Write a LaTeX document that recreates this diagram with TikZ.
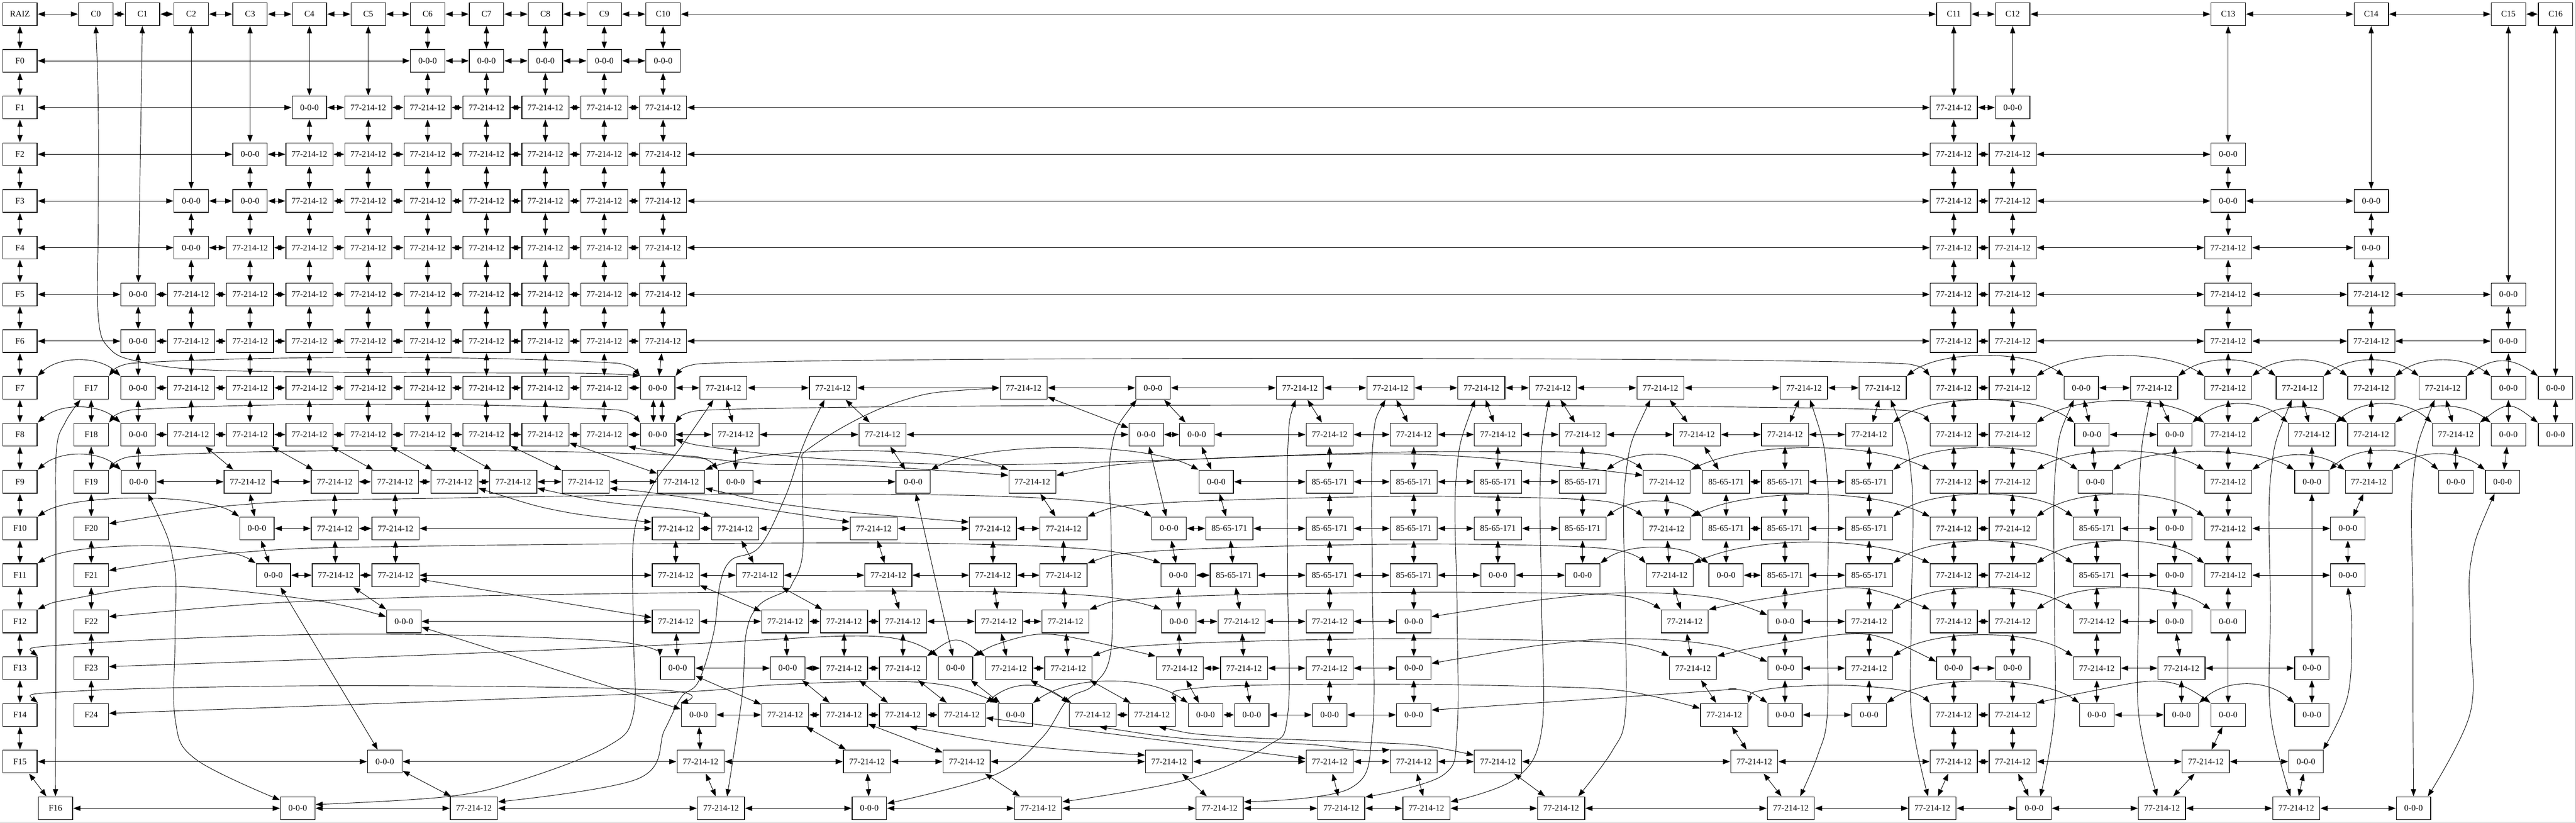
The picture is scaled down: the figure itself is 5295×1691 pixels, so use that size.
\documentclass[tikz,border=0pt]{standalone}
\usepackage{fontspec}
\setmainfont{Liberation Serif}
\usetikzlibrary{arrows.meta,calc}
\tikzset{
 cell/.style={draw,line width=1pt,inner sep=0pt,outer sep=1pt,minimum height=35pt,font=\fontsize{13.2}{15}\selectfont},
 conn/.style={line width=.75pt,{Triangle[length=11pt,width=8pt]}-{Triangle[length=11pt,width=8pt]}}
}
\def\wdz{53pt}\def\wda{72.5pt}\def\wdb{72.5pt}
\def\labz{0-0-0}\def\laba{77-214-12}\def\labb{85-65-171}
\newcommand\cellrow[3]{\foreach \x/\t in {#3}{\node[cell,minimum width=\csname wd\t\endcsname] (n#1x\x) at (\x,#2) {\csname lab\t\endcsname};}}
\newcommand\hchain[2]{\foreach \x [count=\i, remember=\x as \p] in {#2}{\ifnum\i>1 \draw[conn] (n#1\p) -- (n#1\x);\fi}}
\newcommand\vlinks[3]{\foreach \a/\b in {#3}{\draw[conn] (n#1\a) -- (n#2\b);}}
\newcommand\arcS[4][55]{\draw[conn] (n#2.north east) .. controls +(#1,-1.333*#4) and +(-#1,-1.333*#4) .. (n#3.north west);}
\newcommand\arcL[3]{\draw[conn] (n#1.north east) .. controls +(12,-16) and +(-20,3) .. ($(n#1.north east)+(45,-0.68*#3)$) .. controls +(250,-0.42*#3) and +(-250,-0.42*#3) .. ($(n#2.north west)+(-45,-0.68*#3)$) .. controls +(20,3) and +(-12,-16) .. (n#2.north west);}
\newcommand\crv[1]{\draw[conn] plot[smooth,tension=.6] coordinates {#1};}
\begin{document}
\begin{tikzpicture}[x=0.75pt,y=-0.75pt]
\useasboundingbox (0,0) rectangle (5295,1691);
\draw[gray!60,line width=.75pt] (5294,0) -- (5294,1690) -- (0,1690);
% headers
\node[cell,minimum width=53pt] (nRAIZ) at (41,29) {RAIZ};
\foreach \n/\x in {0/197,1/293,2/393,3/514,4/636,5/757,6/879,7/1000,8/1121,9/1242,10/1363,11/4016,12/4137,13/4580,14/4874,15/5156,16/5253}
  {\node[cell,minimum width=53pt] (nC\n) at (\x,29) {C\n};}
\foreach \n/\y in {0/125,1/221,2/317,3/413,4/509,5/605,6/701,7/797,8/893,9/990,10/1086,11/1182,12/1277,13/1373,14/1469,15/1565}
  {\node[cell,minimum width=53pt] (nF\n) at (41,\y) {F\n};}
\node[cell,minimum width=53pt] (nF16) at (114,1661) {F16};
\foreach \n/\y in {17/797,18/893,19/990,20/1086,21/1182,22/1277,23/1373,24/1469}
  {\node[cell,minimum width=53pt] (nF\n) at (187.5,\y) {F\n};}
% cells
\cellrow{1}{125}{879/z,1000/z,1121/z,1242/z,1363/z}
\cellrow{2}{221}{636/z,757/a,879/a,1000/a,1121/a,1242/a,1363/a,4016/a,4137/z}
\cellrow{3}{317}{514/z,636/a,757/a,879/a,1000/a,1121/a,1242/a,1363/a,4016/a,4137/a,4580/z}
\cellrow{4}{413}{393/z,514/z,636/a,757/a,879/a,1000/a,1121/a,1242/a,1363/a,4016/a,4137/a,4580/z,4874/z}
\cellrow{5}{509}{393/z,514/a,636/a,757/a,879/a,1000/a,1121/a,1242/a,1363/a,4016/a,4137/a,4580/a,4874/z}
\cellrow{6}{605}{284/z,393/a,514/a,636/a,757/a,879/a,1000/a,1121/a,1242/a,1363/a,4016/a,4137/a,4580/a,4874/a,5156/z}
\cellrow{7}{701}{284/z,393/a,514/a,636/a,757/a,879/a,1000/a,1121/a,1242/a,1363/a,4016/a,4137/a,4580/a,4874/a,5156/z}
\cellrow{8}{797}{284/z,393/a,514/a,636/a,757/a,879/a,1000/a,1121/a,1242/a,1352/z,1487/a,1712/a,2104/a,2370/z,2672/a,2858/a,3045/a,3192/a,3413/a,3708/a,3870/a,4016/a,4137/a,4278/z,4428/a,4580/a,4727/a,4874/a,5021/a,5156/z,5253/z}
\cellrow{9}{893}{284/z,393/a,514/a,636/a,757/a,879/a,1000/a,1121/a,1242/a,1352/z,1512/a,1814/a,2356/z,2460/z,2733/a,2906/a,3079/a,3253/a,3488/a,3669/a,3842/a,4016/a,4137/a,4300/z,4470/z,4580/a,4752/a,4874/a,5048/a,5156/z,5253/z}
\cellrow{10}{990}{285/z,509/a,688/a,812/a,934/a,1055/a,1204/a,1400/a,1512/z,1877/z,2122/a,2500/z,2733/b,2906/b,3079/b,3253/b,3426/a,3548/b,3669/b,3842/b,4016/a,4137/a,4307/z,4580/a,4752/z,4869/a,5048/z,5144/z}
\cellrow{11}{1086}{528/z,688/a,813/a,1389/a,1511/a,1796/a,2041/a,2186/a,2403/z,2527/b,2733/b,2906/b,3079/b,3253/b,3426/a,3548/b,3669/b,3842/b,4016/a,4137/a,4310/b,4470/z,4580/a,4826/z}
\cellrow{12}{1182}{562/z,690/a,813/a,1389/a,1562/a,1826/a,2041/a,2186/a,2422/z,2536/b,2733/b,2906/b,3079/z,3253/z,3432/a,3548/z,3669/b,3842/b,4016/a,4137/a,4310/b,4470/z,4580/a,4826/z}
\cellrow{13}{1277}{830/z,1389/a,1614/a,1735/a,1856/a,2053/a,2190/a,2423/z,2552/a,2733/a,2906/z,3463/a,3669/z,3842/a,4016/a,4137/a,4310/a,4470/z,4580/z}
\cellrow{14}{1373}{1393/z,1619/z,1735/a,1856/a,1964/z,2074/a,2196/a,2425/a,2557/a,2733/a,2906/z,3480/a,3669/z,3842/a,4016/z,4137/z,4310/a,4484/a,4752/z}
\cellrow{15}{1469}{1436/z,1614/a,1735/a,1856/a,1977/a,2087/z,2246/a,2368/a,2478/z,2573/z,2733/z,2906/z,3544/a,3669/z,3842/z,4016/a,4137/a,4310/z,4484/z,4580/z,4752/z}
\cellrow{16}{1565}{791/z,1440/a,1782/a,1987/a,2403/a,2733/a,2906/a,3079/a,3606/a,4016/a,4137/a,4534/a,4740/z}
\cellrow{17}{1661}{612/z,974/a,1482/a,1787/z,2134/a,2507/a,2757/a,2932/a,3209/a,3681/a,3972/a,4181/z,4444/a,4720/a,4961/z}
% horizontal links
\draw[conn] (nRAIZ) -- (nC0);
\hchain{C}{0,1,2,3,4,5,6,7,8,9,10,11,12,13,14,15,16}
\foreach \a/\b in {F0/1x879,F1/2x636,F2/3x514,F3/4x393,F4/5x393,F5/6x284,F6/7x284,F15/16x791,F16/17x612}{\draw[conn] (n\a) -- (n\b);}
\hchain{1x}{879,1000,1121,1242,1363}
\hchain{2x}{636,757,879,1000,1121,1242,1363,4016,4137}
\hchain{3x}{514,636,757,879,1000,1121,1242,1363,4016,4137,4580}
\hchain{4x}{393,514,636,757,879,1000,1121,1242,1363,4016,4137,4580,4874}
\hchain{5x}{393,514,636,757,879,1000,1121,1242,1363,4016,4137,4580,4874}
\hchain{6x}{284,393,514,636,757,879,1000,1121,1242,1363,4016,4137,4580,4874,5156}
\hchain{7x}{284,393,514,636,757,879,1000,1121,1242,1363,4016,4137,4580,4874,5156}
\hchain{8x}{284,393,514,636,757,879,1000,1121,1242,1352,1487,1712,2104,2370,2672,2858,3045,3192,3413,3708,3870}
\hchain{8x}{4016,4137}\hchain{8x}{4278,4428}
\hchain{9x}{284,393,514,636,757,879,1000,1121,1242,1352,1512,1814,2356,2460,2733,2906,3079,3253,3488,3669,3842}
\hchain{9x}{4016,4137}\hchain{9x}{4300,4470}
\hchain{10x}{285,509,688,812,934,1055,1204,1400}\hchain{10x}{1512,1877}\hchain{10x}{2500,2733,2906,3079,3253}\hchain{10x}{3548,3669,3842}\hchain{10x}{4016,4137}
\hchain{11x}{528,688,813,1389,1511,1796,2041,2186}\hchain{11x}{2403,2527,2733,2906,3079,3253}\hchain{11x}{3548,3669,3842}\hchain{11x}{4016,4137}\hchain{11x}{4310,4470}\hchain{11x}{4580,4826}
\hchain{12x}{562,690,813,1389,1562,1826,2041,2186}\hchain{12x}{2422,2536,2733,2906,3079,3253}\hchain{12x}{3548,3669,3842}\hchain{12x}{4016,4137}\hchain{12x}{4310,4470}\hchain{12x}{4580,4826}
\hchain{13x}{830,1389,1614,1735,1856,2053,2190}\hchain{13x}{2423,2552,2733,2906}\hchain{13x}{3669,3842}\hchain{13x}{4016,4137}\hchain{13x}{4310,4470}
\hchain{14x}{1393,1619,1735,1856}\hchain{14x}{2074,2196}\hchain{14x}{2425,2557,2733,2906}\hchain{14x}{3669,3842}\hchain{14x}{4016,4137}\hchain{14x}{4310,4484,4752}
\hchain{15x}{1436,1614,1735,1856,1977}\hchain{15x}{2246,2368}\hchain{15x}{2478,2573,2733,2906}\hchain{15x}{3669,3842}\hchain{15x}{4016,4137}\hchain{15x}{4310,4484}
\hchain{16x}{791,1440,1782,1987,2403,2733,2906,3079,3606,4016,4137,4534,4740}
\hchain{17x}{612,974,1482,1787,2134,2507,2757,2932,3209,3681,3972,4181,4444,4720,4961}
% header verticals
\draw[conn] (nRAIZ) -- (nF0);
\hchain{F}{0,1,2,3,4,5,6,7,8,9,10,11,12,13,14,15,16}
\hchain{F}{17,18,19,20,21,22,23,24}
\foreach \a/\b in {C1/6x284,C2/4x393,C3/3x514,C4/2x636,C5/2x757,C6/1x879,C7/1x1000,C8/1x1121,C9/1x1242,C10/1x1363,C11/2x4016,C12/2x4137,C13/3x4580,C14/4x4874,C15/6x5156,C16/8x5253}{\draw[conn] (n\a) -- (n\b);}
% verticals
\vlinks{1x}{2x}{879,1000,1121,1242,1363}
\vlinks{2x}{3x}{636,757,879,1000,1121,1242,1363,4016,4137}
\vlinks{3x}{4x}{514,636,757,879,1000,1121,1242,1363,4016,4137,4580}
\vlinks{4x}{5x}{393,514,636,757,879,1000,1121,1242,1363,4016,4137,4580,4874}
\vlinks{5x}{6x}{393,514,636,757,879,1000,1121,1242,1363,4016,4137,4580,4874}
\vlinks{6x}{7x}{284,393,514,636,757,879,1000,1121,1242,1363,4016,4137,4580,4874,5156}
\vlinks{7x}{8x}{284,393,514,636,757,879,1000,1121,1242,1363/1352,4016,4137,4580,4874,5156}
\vlinks{8x}{9x}{284,393,514,636,757,879,1000,1121,1242,1487/1512,1712/1814,2104/2356,2370/2460,2672/2733,2858/2906,3045/3079,3192/3253,3413/3488,3708/3669,3870/3842,4016,4137,4278/4300,4428/4470,4580,4727/4752,4874,5021/5048,5156,5253}
\draw[conn] (n8x1352.250) -- (n9x1352.110);
\draw[conn] (n8x1352.290) -- (n9x1352.70);
\vlinks{9x}{10x}{284/285,393/509,514/688,636/812,757/934,879/1055,1000/1204,1121/1400,1512,1814/1877,2460/2500,2733,2906,3079,3253,3488/3548,3669,3842,4016,4137,4300/4307,4580,4752,4874/4869,5048,5156/5144}
\vlinks{10x}{11x}{509/528,688,812/813,2122/2186,2500/2527,2733,2906,3079,3253,3426,3548,3669,3842,4016,4137,4307/4310,4580,4869/4826}
\vlinks{11x}{12x}{528/562,688/690,813,1389,1511/1562,1796/1826,2041,2186,2403/2422,2527/2536,2733,2906,3079,3253,3426/3432,3548,3669,3842,4016,4137,4310,4470,4580,4826}
\vlinks{12x}{13x}{690/830,813/1389,1389/1614,1562/1735,1826/1856,2041/2053,2186/2190,2422/2423,2536/2552,2733,2906,3432/3463,3669,3842,4016,4137,4310,4470,4580}
\vlinks{13x}{14x}{1389/1393,1614/1619,1735,1856,2053/2074,2190/2196,2423/2425,2552/2557,2733,2906,3463/3480,3669,3842,4016,4137,4310,4470/4484}
\vlinks{14x}{15x}{1393/1614,1619/1735,1735/1856,1856/1977,1964/2087,2074/2246,2196/2368,2425/2478,2557/2573,2733,2906,3480/3544,3669,3842,4016,4137,4310,4484,4752}
\vlinks{15x}{16x}{1436/1440,1614/1782,1735/1987,1977/2733,3544/3606,4016,4137,4580/4534}
\vlinks{16x}{17x}{791/974,1440/1482,1782/1787,1987/2134,2403/2507,2733/2757,2906/2932,3079/3209,3606/3681,4016/3972,4137/4181,4534/4444,4740/4720}
\foreach \a/\b in {10x1877/14x1964,12x562/16x791,13x830/15x1436,9x2356/11x2403,9x4470/11x4470,10x4752/14x4752,13x4580/15x4580}{\draw[conn] (n\a) -- (n\b);}
% same-rank arcs
\arcS[45]{F7}{8x284}{31}\arcL{F17}{8x1352}{38}\arcL{8x1352}{8x4016}{36}
\arcS[70]{8x3870}{8x4278}{40}\arcS[80]{8x4137}{8x4580}{40}\arcS{8x4428}{8x4727}{31}\arcS{8x4580}{8x4874}{31}\arcS{8x4727}{8x5021}{31}\arcS{8x4874}{8x5156}{31}\arcS{8x5021}{8x5253}{29}
\arcS[45]{F8}{9x284}{30}\arcL{F18}{9x1352}{38}\arcL{9x1352}{9x4016}{36}
\arcS[80]{9x3842}{9x4300}{45}\arcS[80]{9x4137}{9x4580}{43}\arcS{9x4470}{9x4752}{37}\arcS{9x4580}{9x4874}{30}\arcS{9x4752}{9x5048}{37}\arcS{9x4874}{9x5156}{32}\arcS{9x5048}{9x5253}{32}
\arcS[45]{F9}{10x285}{30}\arcL{F19}{10x1512}{40}
\arcS[130]{10x1400}{10x2122}{38}\arcS[110]{10x1877}{10x2500}{44}\arcS{10x3253}{10x3548}{30}\arcS[120]{10x3426}{10x4016}{44}\arcS[80]{10x3842}{10x4307}{44}\arcS[80]{10x4137}{10x4580}{37}\arcS[80]{10x4307}{10x4752}{36}\arcS{10x4580}{10x4869}{29}\arcS{10x4752}{10x5048}{38}\arcS{10x4869}{10x5144}{31}
\arcS[70]{F10}{11x528}{36}\arcS{11x3253}{11x3548}{30}\arcS[120]{11x3426}{11x4016}{44}\arcS[80]{11x3842}{11x4310}{44}\arcS[80]{11x4137}{11x4580}{44}
\arcS[70]{F11}{12x562}{34}\arcS{12x3253}{12x3548}{31}\arcS[120]{12x3432}{12x4016}{42}\arcS[80]{12x3842}{12x4310}{44}\arcS[80]{12x4137}{12x4580}{44}
\arcS[80]{13x3842}{13x4310}{43}\arcS[80]{13x4137}{13x4580}{43}
\arcS{14x1856}{14x2074}{31}\arcS[80]{14x3842}{14x4310}{42}
\arcS{15x1977}{15x2246}{34}\arcS[80]{15x2087}{15x2478}{43}\arcS[80]{15x3842}{15x4310}{43}\arcS{15x4484}{15x4752}{37}
% long bends between same-rank cells
\crv{(nF20.15) (536,1034) (893,1024) (1400,1017) (1936,1017) (2257,1032) (n11x2403.north west)}
\crv{(nF21.15) (536,1132) (893,1122) (1400,1117) (1936,1117) (2257,1130) (n12x2422.north west)}
\crv{(nF22.15) (714,1232) (1400,1218) (1936,1215) (2257,1225) (n13x2423.north west)}
\crv{(nF23.5) (800,1349) (1400,1324) (1739,1307) (1864,1317) (n14x1964.north west)}
\crv{(nF24.5) (800,1445) (1400,1422) (1579,1408) (1820,1400) (1954,1410) (n15x2087.north west)}
\crv{(nF12.north east) (152,1230) (348,1205) (643,1233) (n13x830.165)}
\crv{(nF13.north east) (161,1323) (714,1303) (1250,1317) (n14x1393.north west)}
\crv{(nF14.north east) (161,1420) (714,1409) (1357,1418) (n15x1436.north west)}
\crv{(n10x2122.15) (2382,948) (2800,931) (3049,928) (3297,933) (n10x3426.north west)}
\crv{(n11x2186.north east) (2382,1034) (2800,1021) (3049,1021) (3297,1030) (n11x3426.north west)}
\crv{(n12x2186.north east) (2382,1132) (2800,1119) (3132,1120) (3322,1130) (n12x3432.north west)}
\crv{(n13x2190.north east) (2382,1228) (2800,1218) (3132,1218) (3339,1225) (n13x3463.north west)}
\crv{(n13x2906.15) (3215,1227) (3380,1218) (3530,1230) (n13x3669.160)}
\crv{(n13x3463.north east) (3629,1230) (3795,1208) (3878,1220) (n13x4016.north west)}
\crv{(n14x1964.north east) (2061,1320) (2141,1303) (2230,1315) (n14x2425.north west)}
\crv{(n14x2196.north east) (2382,1325) (2800,1313) (3132,1315) (3339,1323) (n14x3480.north west)}
\crv{(n14x2906.15) (3215,1320) (3380,1313) (3530,1327) (n14x3669.160)}
\crv{(n14x3480.north east) (3629,1327) (3795,1303) (3878,1313) (n14x4016.160)}
\crv{(n15x2368.north east) (2471,1413) (2800,1406) (3132,1410) (3339,1420) (n15x3544.165)}
\crv{(n15x2906.15) (3513,1420) (3555,1416) (3596,1422) (n15x3669.north west)}
\crv{(n15x3544.north east) (3629,1417) (3778,1408) (3919,1420) (n15x4016.north west)}
\crv{(n15x4137.north east) (4300,1420) (4416,1400) (4487,1410) (n15x4580.north west)}
% rank-crossing bends
\crv{(n9x1242.south east) (1400,937) (1471,944) (1579,954) (1757,956) (1936,967) (n10x2122.165)}
\crv{(n9x1352.-15) (1471,920) (1668,941) (1936,954) (2114,954) (2382,946) (2800,933) (3049,941) (n10x3426.165)}
\crv{(n10x934.-15) (1161,1052) (n11x1389.165)}
\crv{(n10x1055.-15) (1250,1032) (1400,1048) (n11x1511.north west)}
\crv{(n10x1204.-15) (1400,1021) (n11x1796.165)}
\crv{(n10x1400.-15) (1668,1044) (n11x2041.165)}
\crv{(n15x1856.-60) (2114,1533) (n16x2403.165)}
\crv{(n15x2246.-60) (2409,1515) (2516,1522) (2695,1530) (2800,1542) (n16x2906.north west)}
\crv{(n15x2368.-60) (2516,1513) (2800,1525) (2924,1532) (n16x3079.165)}
% long thin column links
\crv{(nC0.south) (202,230) (202,450) (202,650) (224,715) (286,743) (446,761) (893,766) (1205,767) (n8x1352.north west)}
\crv{(nF16.north) (115,1300) (115,1100) (116,925) (134,868) (nF17.228)}
\crv{(n10x285.308) (357,1155) (360,1300) (360,1477) (402,1560) (n17x612.155)}
\crv{(n8x1487.230) (1400,918) (1340,1000) (1303,1100) (1302,1300) (1302,1467) (1250,1533) (1071,1603) (920,1637) (n17x612.12)}
\crv{(n8x1712.235) (1650,918) (1614,1021) (1561,1124) (1503,1151) (1480,1200) (1467,1300) (1436,1400) (1400,1433) (1366,1500) (1312,1600) (n17x974.15)}
\crv{(n8x2104.west) (1846,826) (1668,918) (1650,967) (1650,1136) (1628,1200) (1614,1215) (1561,1243) (1534,1300) (1525,1433) (n17x1482.63)}
\crv{(n8x2370.216) (2284,925) (2284,1100) (2284,1333) (2248,1407) (2195,1437) (2141,1517) (2043,1593) (n17x1787.15)}
\crv{(n8x2672.250) (2647,925) (2647,1200) (2647,1467) (2605,1533) (2436,1603) (n17x2134.15)}
\crv{(n8x2858.247) (2821,925) (2821,1200) (2821,1500) (2775,1620) (n17x2507.15)}
\crv{(n8x3045.242) (2993,983) (2995,1250) (2995,1500) (2966,1593) (n17x2757.25)}
\crv{(n8x3192.252) (3166,983) (3169,1250) (3169,1500) (3115,1600) (n17x2932.15)}
\crv{(n8x3413.230) (3341,983) (3341,1250) (3341,1467) (3314,1543) (n17x3209.35)}
\crv{(n8x3708.297) (3756,983) (3756,1250) (3756,1467) (3737,1550) (n17x3681.52)}
\crv{(n8x3870.304) (3929,983) (3929,1250) (3929,1467) (n17x3972.110)}
\crv{(n8x4278.238) (4225,964) (4223,1250) (4223,1467) (n17x4181.62)}
\crv{(n8x4428.252) (4398,983) (4396,1250) (4396,1467) (n17x4444.112)}
\crv{(n8x4727.236) (4667,983) (4667,1250) (4667,1467) (n17x4720.116)}
\crv{(n8x5021.236) (4960,983) (4960,1250) (4960,1467) (n17x4961.north)}
\crv{(n10x5144.236) (5079,1155) (5078,1300) (5077,1467) (n17x4961.40)}
\crv{(n12x4826.south) (4834,1300) (4825,1433) (n16x4740.35)}
\end{tikzpicture}
\end{document}
